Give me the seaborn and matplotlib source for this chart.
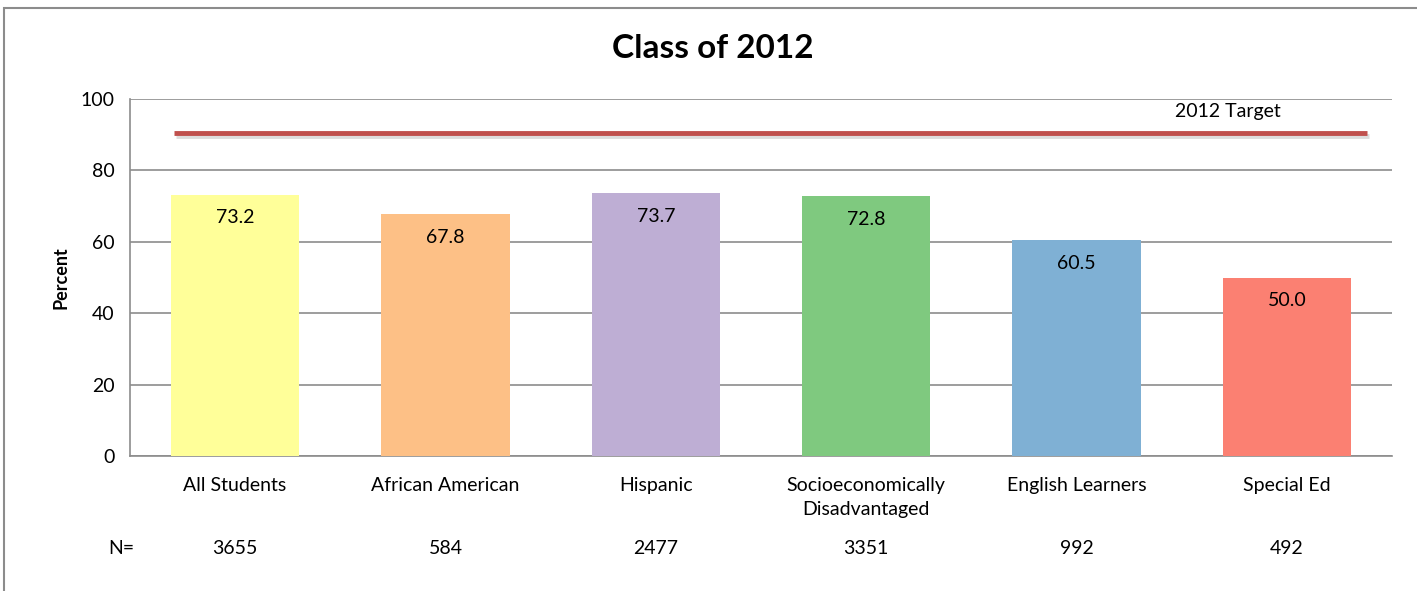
import pandas as pd
import seaborn as sns
import matplotlib.pyplot as plt
import matplotlib.patheffects as pe
from matplotlib.patches import Rectangle
from matplotlib.transforms import blended_transform_factory

# Chart data
groups = ['All Students', 'African American', 'Hispanic',
          'Socioeconomically\nDisadvantaged', 'English Learners', 'Special Ed']
percent = [73.2, 67.8, 73.7, 72.8, 60.5, 50.0]
n_counts = [3655, 584, 2477, 3351, 992, 492]
target = 90.5
colors = ['#FFFF99', '#FDC086', '#BEAED4', '#7FC97F', '#7FB0D4', '#FB8072']

df = pd.DataFrame({'group': groups, 'percent': percent})

sns.set_style('white')
plt.rcParams['font.family'] = ['Lato', 'DejaVu Sans']
plt.rcParams['text.color'] = 'black'
plt.rcParams['xtick.color'] = 'black'
plt.rcParams['ytick.color'] = 'black'
plt.rcParams['axes.labelcolor'] = 'black'

fig = plt.figure(figsize=(14.17, 5.91), dpi=100)
ax = fig.add_axes([0.0917, 0.2284, 0.8907, 0.6041])

# Outer chart frame (cut off on right and bottom)
fig.patches.append(Rectangle((4 / 1417, -0.05), 1.1, 1 - 8 / 591 + 0.05,
                             transform=fig.transFigure, fill=False,
                             edgecolor='#8C8C8C', linewidth=1.5))

sns.barplot(data=df, x='group', y='percent', hue='group', palette=colors,
            width=0.61, saturation=1, linewidth=0, legend=False, ax=ax, zorder=3)

# Target line
ax.plot([-0.29, 5.38], [target, target], color='#C0504D', linewidth=3.5,
        solid_capstyle='butt', zorder=4,
        path_effects=[pe.SimpleLineShadow(offset=(1.5, -2.5), shadow_color='#AAAAAA', alpha=0.4),
                      pe.Normal()])
ax.text(4.72, 96.5, '2012 Target', ha='center', va='center', fontsize=14)

# Value labels inside bars
for i, v in enumerate(percent):
    ax.text(i, v - 6.5, f'{v:.1f}', ha='center', va='center', fontsize=14, zorder=5)

ax.set_ylim(0, 100)
ax.set_xlim(-0.5, 5.5)
ax.set_yticks(range(0, 101, 20))
ax.yaxis.grid(True, color='#8C8C8C', linewidth=1.2)
ax.set_axisbelow(True)
ax.set_xlabel('')
ax.set_ylabel('Percent', fontsize=13, fontweight='bold', labelpad=8)
fig.text(0.503, 1 - 49 / 591, 'Class of 2012', ha='center', va='center',
         fontsize=24, fontweight='bold')

for side in ['top', 'right']:
    ax.spines[side].set_visible(False)
for side in ['left', 'bottom']:
    ax.spines[side].set_color('#8C8C8C')
    ax.spines[side].set_linewidth(1.2)

ax.tick_params(axis='y', length=7, color='#8C8C8C', width=1.2, labelsize=14, pad=4)
ax.tick_params(axis='x', which='major', length=0, labelsize=14, pad=15)
ax.set_xticks([x - 0.5 for x in range(7)], minor=True)
ax.tick_params(axis='x', which='minor', length=7, color='#8C8C8C', width=1.2)
for lbl in ax.get_xticklabels():
    lbl.set_verticalalignment('top')
    lbl.set_linespacing(1.5)

# N row below categories
trans = blended_transform_factory(ax.transData, ax.transAxes)
ax.text(-0.54, -0.26, 'N=', transform=trans, ha='center', va='center', fontsize=14)
for i, n in enumerate(n_counts):
    ax.text(i, -0.26, str(n), transform=trans, ha='center', va='center', fontsize=14)

fig.savefig('out.png', dpi=100)
